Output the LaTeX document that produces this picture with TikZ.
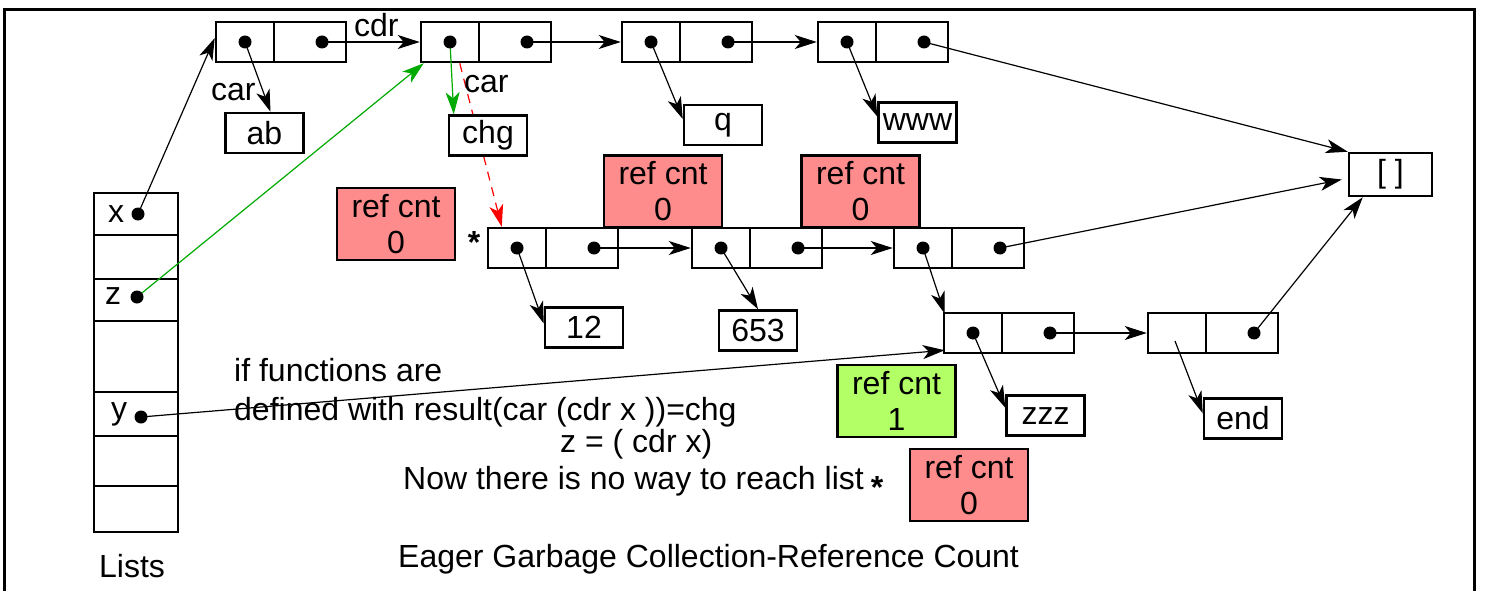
\documentclass[tikz,border=0pt]{standalone}
\usepackage{fontspec}
\setmainfont{Liberation Sans}
\usetikzlibrary{arrows.meta}
\definecolor{refred}{RGB}{255,140,140}
\definecolor{refgreen}{RGB}{178,255,102}
\definecolor{ptrgreen}{RGB}{0,170,0}

% cons cell: name, left x, top y (pixel-like units, y grows downwards)
\newcommand\conscell[3]{%
  \node[cellbox] (#1) at (#2+65,#3+20) {};
  \draw[boxline] (#2+58,#3) -- (#2+58,#3+40);
  \coordinate (#1-car) at (#2+29,#3+20);
  \coordinate (#1-cdr) at (#2+106,#3+20);
}

\begin{document}
\begin{tikzpicture}[x=1pt,y=-1pt,
  every node/.style={font=\fontsize{32}{36}\selectfont, inner sep=0pt},
  boxline/.style={line width=2.5pt},
  cellbox/.style={draw, boxline, minimum width=130pt, minimum height=40pt, fill=white},
  valbox/.style={draw, boxline, minimum width=78pt, minimum height=40pt, fill=white},
  refbox/.style={draw, boxline, minimum width=118pt, minimum height=72pt, align=center},
  tip/.style={-{Stealth[length=22pt,width=14pt,inset=6pt]}},
  ptr/.style={line width=1.2pt, tip},
  lbl/.style={anchor=base west},
  dot/.style={fill=black},
]
\useasboundingbox (0,0) rectangle (1487,591);

% outer frame (open at the bottom)
\draw[line width=3pt] (4.5,591) -- (4.5,9.5) -- (1474,9.5) -- (1474,591);

% cons cells
\conscell{c1}{216}{22}
\conscell{c2}{421}{22}
\conscell{c3}{622}{22}
\conscell{c4}{818}{22}
\conscell{cA}{488}{228}
\conscell{cB}{692}{228}
\conscell{cC}{894}{228}
\conscell{cD}{944}{313}
\conscell{cE}{1148}{313}
\coordinate (cE-mark) at (1175,341);

% the broken car link of the second cell
\draw[red, line width=1.2pt, dash pattern=on 9pt off 7pt, tip]
  ([xshift=40pt]c2.south west) -- ([xshift=15pt]cA.north west);

% value boxes
\node[valbox] (ab)  at (264.5,133) {ab};
\node[valbox] (chg) at (488,135.5) {chg};
\node[valbox] (q)   at (723,125) {q};
\node[valbox] (www) at (917.5,122.5) {www};
\node[valbox, minimum width=83pt, minimum height=43pt] (nil) at (1390.5,174.5) {[ ]};
\node[valbox] (n12)  at (584,327.5) {12};
\node[valbox] (n653) at (758,330.5) {653};
\node[valbox] (zzz)  at (1045.5,415.7) {zzz};
\node[valbox] (end)  at (1243,418.3) {end};

% reference counters
\node[refbox, fill=refred]   (rc1) at (396,224)     {ref cnt\\0};
\node[refbox, fill=refred]   (rc2) at (663,191.5)   {ref cnt\\0};
\node[refbox, fill=refred]   (rc3) at (860.5,191.5) {ref cnt\\0};
\node[refbox, fill=refgreen] (rc4) at (896.5,401)   {ref cnt\\1};
\node[refbox, fill=refred]   (rc5) at (969,485)     {ref cnt\\0};

% list roots
\node[draw, boxline, minimum width=84pt, minimum height=339pt] (lists) at (136,362.5) {};
\foreach \yy in {235,279,321,392,436,486}
  \draw[boxline] (94,\yy) -- (178,\yy);
\node[lbl] (lx) at (108,222) {x};
\node[lbl] (lz) at (105,304) {z};
\node[lbl] (ly) at (111,419) {y};
\coordinate (xdot) at (138,214);
\coordinate (zdot) at (137,297);
\coordinate (ydot) at (141,417);
\node[lbl] (listsname) at (99,577) {Lists};

% labels on links
\node[lbl] (cdrlbl)  at (354,37)  {cdr};
\node[lbl] (carlbl1) at (211,101) {car};
\node[lbl] (carlbl2) at (464,93)  {car};
\node[anchor=north, font=\fontsize{32}{36}\selectfont\bfseries] (star1) at (474,231) {*};

% notes
\node[lbl] (t1) at (234,381) {if functions are};
\node[lbl] (t2) at (234,420) {defined with result(car (cdr x ))=chg};
\node[lbl] (t3) at (560,452) {z = ( cdr x)};
\node[lbl] (t4) at (403,489) {Now there is no way to reach list};
\node[anchor=north, font=\fontsize{32}{36}\selectfont\bfseries] (star2) at (877,476) {*};
\node[lbl] (title) at (398,567) {Eager Garbage Collection-Reference Count};

% pointers
\draw[ptr] (xdot) -- ([yshift=4pt]c1.west);
\draw[ptr, ptrgreen] (zdot) -- ([xshift=4pt]c2.south west);
\draw[ptr] (ydot) -- ([xshift=2pt,yshift=4pt]cD.south west);

\draw[ptr] (c1-cdr) -- (c2.west);
\draw[ptr] (c1-car) -- ([xshift=6pt]ab.north);
\draw[ptr, ptrgreen] (c2-car) -- ([xshift=6pt]chg.north west);
\draw[ptr] (c2-cdr) -- (c3.west);
\draw[ptr] (c3-car) -- ([yshift=6pt]q.west);
\draw[ptr] (c3-cdr) -- (c4.west);
\draw[ptr] (c4-car) -- ([yshift=6pt]www.west);
\draw[ptr] (c4-cdr) -- (nil.north west);

\draw[ptr] (cA-car) -- ([yshift=4pt]n12.west);
\draw[ptr] (cA-cdr) -- (cB.west);
\draw[ptr] (cB-car) -- (n653.north);
\draw[ptr] (cB-cdr) -- (cC.west);
\draw[ptr] (cC-car) -- ([xshift=2pt,yshift=-2pt]cD.north west);
\draw[ptr] (cC-cdr) -- ([xshift=-6pt,yshift=-5pt]nil.west);

\draw[ptr] (cD-car) -- ([yshift=8pt]zzz.west);
\draw[ptr] (cD-cdr) -- (cE.west);
\draw[ptr] (cE-mark) -- ([yshift=5pt]end.west);
\draw[ptr] (cE-cdr) -- ([xshift=15pt]nil.south west);

% pointer dots
\foreach \p in {c1-car,c1-cdr,c2-car,c2-cdr,c3-car,c3-cdr,c4-car,c4-cdr,
                cA-car,cA-cdr,cB-car,cB-cdr,cC-car,cC-cdr,cD-car,cD-cdr,cE-cdr,
                xdot,zdot,ydot}
  \fill[dot] (\p) circle[radius=6.5pt];
\end{tikzpicture}
\end{document}
